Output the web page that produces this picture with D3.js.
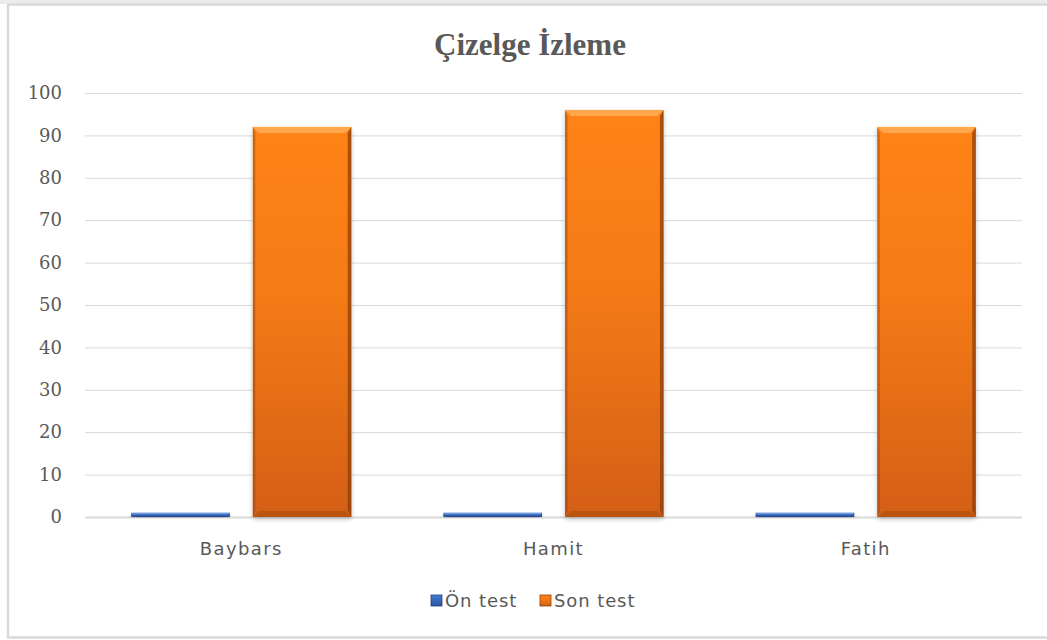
<!DOCTYPE html>
<html>
<head>
<meta charset="utf-8">
<script src="https://cdn.jsdelivr.net/npm/d3@7/dist/d3.min.js"></script>
<style>
  html, body { margin: 0; padding: 0; background: #fff; overflow: hidden; }
  svg { display: block; }
</style>
</head>
<body>
<svg id="chart" width="1047" height="640"></svg>
<script>
// Scores per student: before and after test
const students = ["Baybars", "Hamit", "Fatih"];
const onTest = [1, 1, 1];
const sonTest = [92, 96, 92];
const seriesNames = ["Ön test", "Son test"];
const yTicks = [0, 10, 20, 30, 40, 50, 60, 70, 80, 90, 100];

const svg = d3.select("#chart");
const W = 1047, H = 640;
const margin = { left: 85, right: 25, top: 93, bottom: 123 };

// Outer chart frame (runs past the right edge)
svg.append("rect").attr("x", 0).attr("y", 0).attr("width", W).attr("height", 4).attr("fill", "#ececec");
svg.append("rect")
  .attr("x", 8).attr("y", 4.5).attr("width", W + 60).attr("height", 633)
  .attr("fill", "#fff").attr("stroke", "#d9d9d9").attr("stroke-width", 2.5);

const defs = svg.append("defs");
function barGradient(id, top, mid, bottom) {
  const g = defs.append("linearGradient").attr("id", id)
    .attr("x1", 0).attr("y1", 0).attr("x2", 0).attr("y2", 1);
  g.append("stop").attr("offset", "0%").attr("stop-color", top);
  g.append("stop").attr("offset", "45%").attr("stop-color", mid);
  g.append("stop").attr("offset", "100%").attr("stop-color", bottom);
}
barGradient("gOrange", "#ff8319", "#f47a17", "#d35f13");
barGradient("gBlue", "#4b7fd0", "#3568bd", "#2a56a3");
const shadow = defs.append("filter").attr("id", "shadow")
  .attr("x", "-10%").attr("y", "-5%").attr("width", "120%").attr("height", "115%");
shadow.append("feGaussianBlur").attr("in", "SourceAlpha").attr("stdDeviation", 2.5);
shadow.append("feOffset").attr("dx", 0).attr("dy", 2).attr("result", "b");
shadow.append("feComponentTransfer").append("feFuncA").attr("type", "linear").attr("slope", 0.25);
const fm = shadow.append("feMerge");
fm.append("feMergeNode");
fm.append("feMergeNode").attr("in", "SourceGraphic");

const x0 = d3.scaleBand().domain(students)
  .range([margin.left, W - margin.right]).paddingInner(0.295).paddingOuter(0.148);
const x1 = d3.scaleBand().domain(seriesNames).range([0, x0.bandwidth()]).paddingInner(0.19);
const y = d3.scaleLinear().domain([0, 100]).range([H - margin.bottom, margin.top]);

// Title
svg.append("text").attr("x", 530).attr("y", 55).attr("text-anchor", "middle")
  .attr("font-family", "Liberation Serif, serif").attr("font-weight", "bold")
  .attr("font-size", 31).attr("fill", "#595959").text("Çizelge İzleme");

// Gridlines
const yAxis = d3.axisLeft(y).tickValues(yTicks).tickSize(-(W - margin.left - margin.right)).tickPadding(23);
const gy = svg.append("g").attr("transform", `translate(${margin.left},0)`).call(yAxis);
gy.select(".domain").remove();
gy.selectAll(".tick line").attr("stroke", "#d9d9d9").attr("stroke-width", 1);
gy.selectAll(".tick").filter(d => d === 0).select("line").attr("stroke-width", 2);
gy.selectAll(".tick text").attr("font-family", "DejaVu Serif, serif").attr("font-size", 18)
  .attr("fill", "#595959");

// Bars
const groups = students.map((s, i) => ({ s, vals: [onTest[i], sonTest[i]] }));
const colors = { "Ön test": "gBlue", "Son test": "gOrange" };
const edgeDark = { "Ön test": "#1f3f7a", "Son test": "#8e3f0a" };
const edgeLight = { "Ön test": "#7aa3e6", "Son test": "#ffb05a" };

groups.forEach(g => {
  seriesNames.forEach((name, k) => {
    const v = g.vals[k];
    const bx = x0(g.s) + x1(name);
    const bw = x1.bandwidth();
    const by = y(v);
    const bh = y(0) - y(v);
    const gg = svg.append("g");
    gg.append("rect").attr("x", bx).attr("y", by).attr("width", bw).attr("height", bh)
      .attr("fill", `url(#${colors[name]})`).attr("filter", "url(#shadow)");
    const bev = Math.min(6, bh / 3);
    // top light bevel
    gg.append("path")
      .attr("d", `M${bx},${by}L${bx + bw},${by}L${bx + bw - bev},${by + bev}L${bx + bev},${by + bev}Z`)
      .attr("fill", edgeLight[name]).attr("opacity", 0.8);
    // right dark bevel
    gg.append("path")
      .attr("d", `M${bx + bw},${by}L${bx + bw},${by + bh}L${bx + bw - bev * 0.6},${by + bh - bev}L${bx + bw - bev * 0.6},${by + bev}Z`)
      .attr("fill", edgeDark[name]).attr("opacity", 0.75);
    // left dark bevel
    gg.append("path")
      .attr("d", `M${bx},${by}L${bx},${by + bh}L${bx + bev * 0.4},${by + bh - bev}L${bx + bev * 0.4},${by + bev}Z`)
      .attr("fill", edgeDark[name]).attr("opacity", 0.45);
    // bottom dark bevel
    gg.append("path")
      .attr("d", `M${bx},${by + bh}L${bx + bw},${by + bh}L${bx + bw - bev},${by + bh - bev}L${bx + bev},${by + bh - bev}Z`)
      .attr("fill", edgeDark[name]).attr("opacity", 0.35);
  });
});

// Category axis labels
const xAxis = d3.axisBottom(x0).tickSize(0).tickPadding(25);
const gx = svg.append("g").attr("transform", `translate(0,${y(0)})`).call(xAxis);
gx.select(".domain").remove();
gx.selectAll(".tick text").attr("font-family", "DejaVu Sans, sans-serif").attr("font-size", 18)
  .attr("letter-spacing", "1.4px").attr("fill", "#595959");

// Legend
const legend = svg.append("g").attr("transform", "translate(431,601)");
const legX = [0, 109];
seriesNames.forEach((name, i) => {
  const lg = legend.append("g").attr("transform", `translate(${legX[i]},0)`);
  lg.append("rect").attr("x", 0).attr("y", -6).attr("width", 11).attr("height", 11)
    .attr("fill", `url(#${colors[name]})`).attr("stroke", edgeDark[name]).attr("stroke-width", 0.8);
  lg.append("text").attr("x", 14).attr("y", 6).attr("font-family", "DejaVu Sans, sans-serif")
    .attr("font-size", 18).attr("letter-spacing", "0.9px").attr("fill", "#595959").text(name);
});
</script>
</body>
</html>
